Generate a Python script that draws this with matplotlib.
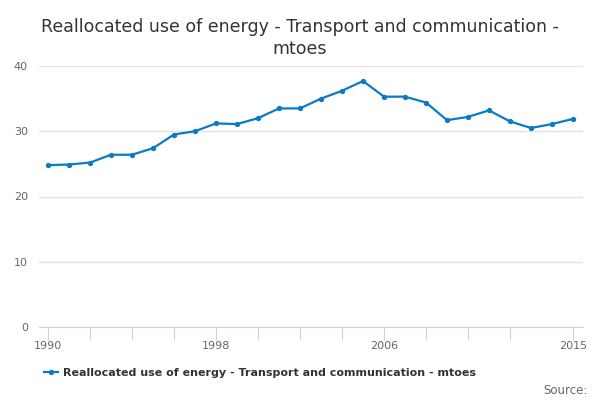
import matplotlib
matplotlib.use("Agg")
import matplotlib.pyplot as plt
from matplotlib.lines import Line2D

# Data
years = list(range(1990, 2016))
mtoes = [24.8, 24.9, 25.2, 26.4, 26.4, 27.4, 29.5, 30.0, 31.2, 31.1,
         32.0, 33.5, 33.5, 35.0, 36.2, 37.7, 35.3, 35.3, 34.4, 31.7,
         32.2, 33.2, 31.5, 30.5, 31.1, 31.9]
x_ticks = list(range(1990, 2013, 2)) + [2015]
x_labels = ["1990" if y == 1990 else "1998" if y == 1998 else
            "2006" if y == 2006 else "2015" if y == 2015 else "" for y in x_ticks]
y_ticks = [0, 10, 20, 30, 40]
series_name = "Reallocated use of energy - Transport and communication - mtoes"
title = "Reallocated use of energy - Transport and communication -\nmtoes"

blue = "#0a7bc4"

fig = plt.figure(figsize=(6, 4), dpi=100)
ax = fig.add_axes([39 / 600, 1 - 327 / 400, 544 / 600, 261 / 400])

ax.plot(years, mtoes, color=blue, lw=1.6, marker="o", markersize=2.8)

ax.set_xlim(1990 - 9 / 21, 2015 + 10 / 21)
ax.set_ylim(0, 40)
ax.set_yticks(y_ticks)
ax.set_xticks(x_ticks)
ax.set_xticklabels(x_labels)
ax.grid(axis="y", color="#e3e3e3", lw=1)
ax.set_axisbelow(True)

for side in ["top", "right", "left"]:
    ax.spines[side].set_visible(False)
ax.spines["bottom"].set_color("#c8d3e6")
ax.tick_params(axis="x", direction="out", length=9, color="#c8d3e6",
               labelsize=8, labelcolor="#666666", pad=1)
ax.tick_params(axis="y", length=0, labelsize=8, labelcolor="#666666", pad=8)

fig.text(0.5, 0.955, title, ha="center", va="top", fontsize=12.5,
         color="#333333", linespacing=1.25)

handle = Line2D([], [], color=blue, lw=1.6, marker="o", markersize=2.8)
fig.legend([handle], [series_name], loc="center left",
           bbox_to_anchor=(44 / 600, 1 - 373 / 400), borderpad=0, borderaxespad=0,
           frameon=False, handlelength=1.3, handletextpad=0.4,
           prop={"size": 8, "weight": "bold"}, labelcolor="#333333")

fig.text(0.98, 1 - 390 / 400, "Source:", ha="right", va="center",
         fontsize=8.5, color="#666666")

fig.savefig("out.png", dpi=100)
